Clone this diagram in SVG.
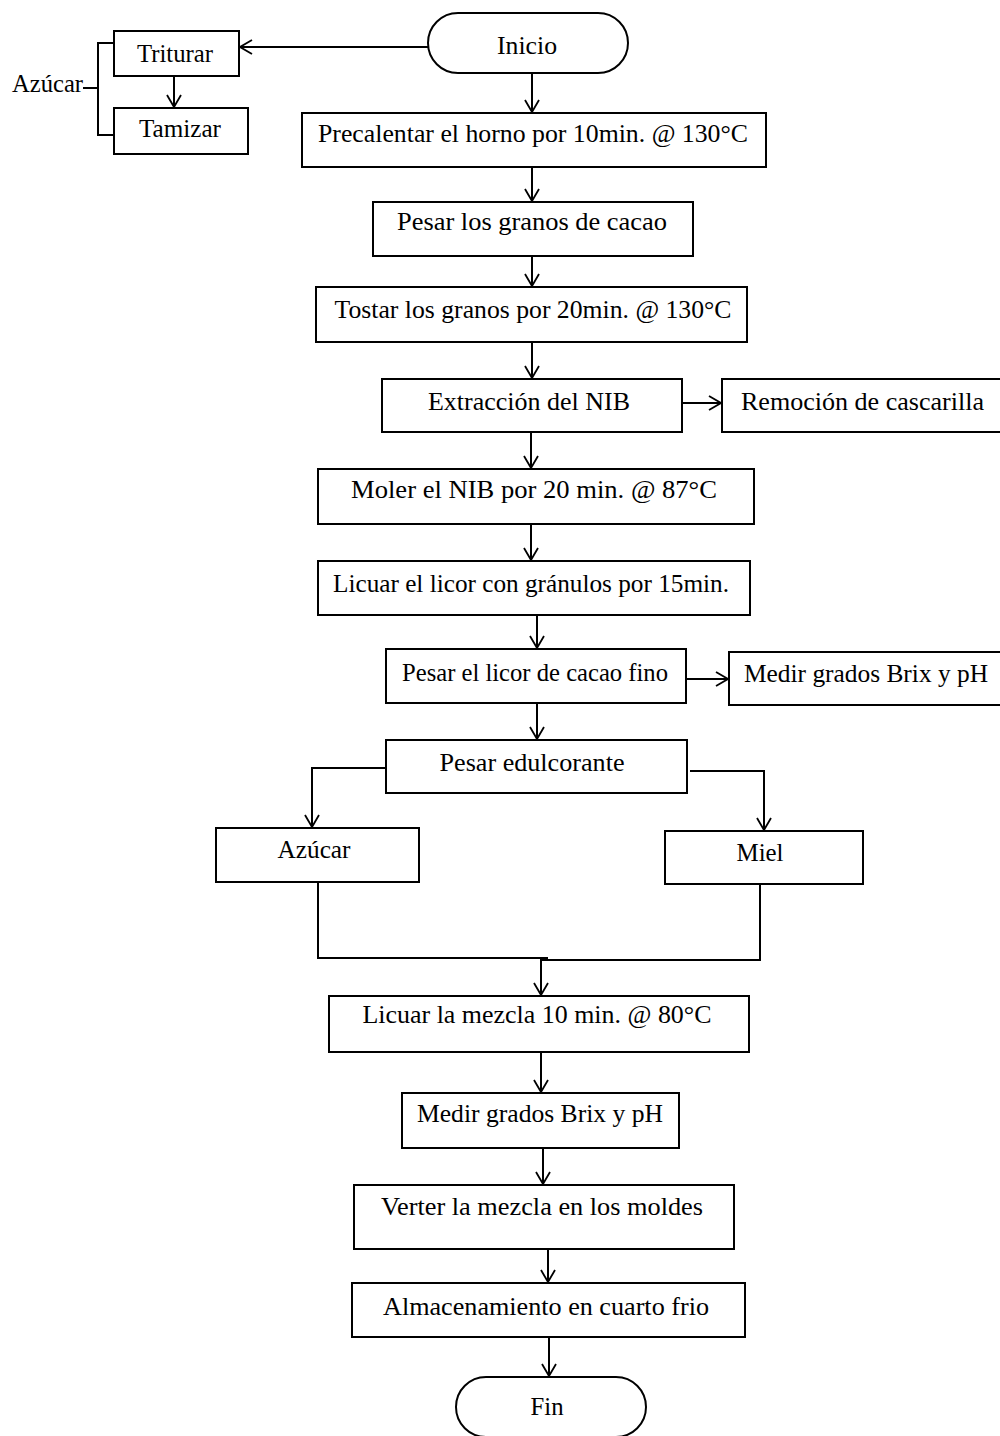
<svg xmlns="http://www.w3.org/2000/svg" width="1000" height="1436" viewBox="0 0 1000 1436">
<style>
.b{fill:#fff;stroke:#000;stroke-width:2}
.c{fill:none;stroke:#000;stroke-width:2}
.t{font-family:"Liberation Serif","Times New Roman",serif;font-size:26px;fill:#000}
.m{text-anchor:middle}
</style>
<defs>
<marker id="a" markerWidth="14" markerHeight="18" refX="13" refY="8" orient="auto" markerUnits="userSpaceOnUse" viewBox="0 0 14 16">
<path d="M1,1 L13,8 L1,15" fill="none" stroke="#000" stroke-width="1.8"/>
</marker>
</defs>
<rect width="1000" height="1436" fill="#fff"/>
<g id="connectors">
<path class="c" d="M428,47 H240" marker-end="url(#a)"/>
<path class="c" d="M114,43 H98 V135 H114 M83,88 H98"/>
<path class="c" d="M174,76 V107" marker-end="url(#a)"/>
<path class="c" d="M532,73 V112" marker-end="url(#a)"/>
<path class="c" d="M532,167 V201" marker-end="url(#a)"/>
<path class="c" d="M532,256 V286" marker-end="url(#a)"/>
<path class="c" d="M532,342 V378" marker-end="url(#a)"/>
<path class="c" d="M682,403 H721" marker-end="url(#a)"/>
<path class="c" d="M531,432 V468" marker-end="url(#a)"/>
<path class="c" d="M531,524 V560" marker-end="url(#a)"/>
<path class="c" d="M537,615 V648" marker-end="url(#a)"/>
<path class="c" d="M686,679 H728" marker-end="url(#a)"/>
<path class="c" d="M537,703 V739" marker-end="url(#a)"/>
<path class="c" d="M386,768 H312 V827" marker-end="url(#a)"/>
<path class="c" d="M690,771 H764 V830" marker-end="url(#a)"/>
<path class="c" d="M318,882 V958 H548"/>
<path class="c" d="M760,884 V960 H541"/>
<path class="c" d="M541,958 V995" marker-end="url(#a)"/>
<path class="c" d="M541,1052 V1092" marker-end="url(#a)"/>
<path class="c" d="M543,1148 V1184" marker-end="url(#a)"/>
<path class="c" d="M548,1249 V1282" marker-end="url(#a)"/>
<path class="c" d="M549,1337 V1376" marker-end="url(#a)"/>
</g>
<g id="inicio"><rect class="b" x="428" y="13" width="200" height="60" rx="30"/><text class="t m" x="527" y="54" textLength="60" lengthAdjust="spacingAndGlyphs">Inicio</text></g>
<g id="triturar"><rect class="b" x="114" y="31" width="125" height="45"/><text class="t m" x="175" y="62" textLength="76" lengthAdjust="spacingAndGlyphs">Triturar</text></g>
<g id="tamizar"><rect class="b" x="114" y="108" width="134" height="46"/><text class="t m" x="180" y="137" textLength="82" lengthAdjust="spacingAndGlyphs">Tamizar</text></g>
<g id="azucar-label"><text class="t" x="12" y="92" textLength="71" lengthAdjust="spacingAndGlyphs">Azúcar</text></g>
<g id="precalentar"><rect class="b" x="302" y="113" width="464" height="54"/><text class="t m" x="533" y="142" textLength="430" lengthAdjust="spacingAndGlyphs">Precalentar el horno por 10min. @ 130°C</text></g>
<g id="pesar-granos"><rect class="b" x="373" y="202" width="320" height="54"/><text class="t m" x="532" y="230" textLength="270" lengthAdjust="spacingAndGlyphs">Pesar los granos de cacao</text></g>
<g id="tostar"><rect class="b" x="316" y="287" width="431" height="55"/><text class="t m" x="533" y="318" textLength="397" lengthAdjust="spacingAndGlyphs">Tostar los granos por 20min. @ 130°C</text></g>
<g id="extraccion"><rect class="b" x="382" y="379" width="300" height="53"/><text class="t m" x="529" y="410" textLength="202" lengthAdjust="spacingAndGlyphs">Extracción del NIB</text></g>
<g id="remocion"><rect class="b" x="722" y="379" width="290" height="53"/><text class="t" x="741" y="410" textLength="243" lengthAdjust="spacingAndGlyphs">Remoción de cascarilla</text></g>
<g id="moler"><rect class="b" x="318" y="469" width="436" height="55"/><text class="t m" x="534" y="498" textLength="366" lengthAdjust="spacingAndGlyphs">Moler el NIB por 20 min.  @ 87°C</text></g>
<g id="licuar-licor"><rect class="b" x="318" y="561" width="432" height="54"/><text class="t m" x="531" y="592" textLength="396" lengthAdjust="spacingAndGlyphs">Licuar el licor con gránulos por 15min.</text></g>
<g id="pesar-licor"><rect class="b" x="386" y="649" width="300" height="54"/><text class="t m" x="535" y="681" textLength="266" lengthAdjust="spacingAndGlyphs">Pesar el licor de cacao fino</text></g>
<g id="medir-1"><rect class="b" x="729" y="652" width="283" height="53"/><text class="t" x="744" y="682" textLength="244" lengthAdjust="spacingAndGlyphs">Medir grados Brix y pH</text></g>
<g id="pesar-edulcorante"><rect class="b" x="386" y="740" width="301" height="53"/><text class="t m" x="532" y="771" textLength="185" lengthAdjust="spacingAndGlyphs">Pesar edulcorante</text></g>
<g id="azucar"><rect class="b" x="216" y="828" width="203" height="54"/><text class="t m" x="314" y="858" textLength="73" lengthAdjust="spacingAndGlyphs">Azúcar</text></g>
<g id="miel"><rect class="b" x="665" y="831" width="198" height="53"/><text class="t m" x="760" y="861" textLength="47" lengthAdjust="spacingAndGlyphs">Miel</text></g>
<g id="licuar-mezcla"><rect class="b" x="329" y="996" width="420" height="56"/><text class="t m" x="537" y="1023" textLength="349" lengthAdjust="spacingAndGlyphs">Licuar la mezcla 10 min. @ 80°C</text></g>
<g id="medir-2"><rect class="b" x="402" y="1093" width="277" height="55"/><text class="t m" x="540" y="1122" textLength="246" lengthAdjust="spacingAndGlyphs">Medir grados Brix y pH</text></g>
<g id="verter"><rect class="b" x="354" y="1185" width="380" height="64"/><text class="t m" x="542" y="1215" textLength="322" lengthAdjust="spacingAndGlyphs">Verter la mezcla en los moldes</text></g>
<g id="almacenamiento"><rect class="b" x="352" y="1283" width="393" height="54"/><text class="t m" x="546" y="1315" textLength="326" lengthAdjust="spacingAndGlyphs">Almacenamiento en cuarto frio</text></g>
<g id="fin"><rect class="b" x="456" y="1377" width="190" height="60" rx="30"/><text class="t m" x="547" y="1415" textLength="33" lengthAdjust="spacingAndGlyphs">Fin</text></g>
</svg>
